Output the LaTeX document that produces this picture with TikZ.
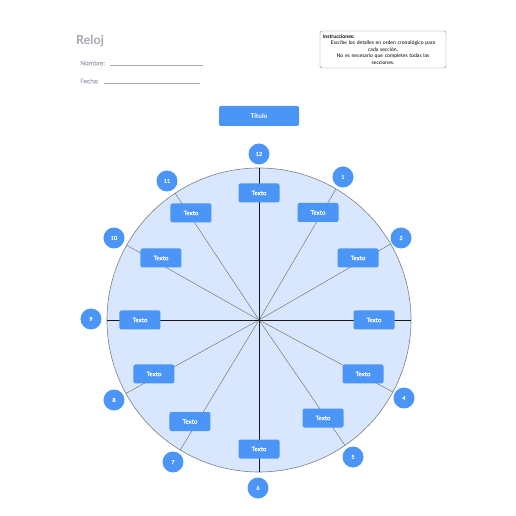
\documentclass[tikz,border=0pt]{standalone}
\usepackage{fontspec}
\setmainfont{Lato}
\newfontfamily\mediumFont[FakeBold=0.6]{Lato}
\usetikzlibrary{calc, positioning}
\definecolor{clockBlue}{HTML}{4A95F6}
\definecolor{clockFace}{HTML}{D8E7FD}
\definecolor{rimGray}{HTML}{7A7F87}
\definecolor{headGray}{HTML}{A3A8B2}
\tikzset{
  textBox/.style={fill=clockBlue, rounded corners=2pt, minimum width=41pt, minimum height=19pt,
    inner sep=0pt, text=white, font=\mediumFont\fontsize{6.2}{7}\selectfont},
  hourDot/.style={circle, fill=clockBlue, minimum size=21pt, inner sep=0pt, text=white,
    font=\mediumFont\fontsize{5.5}{6}\selectfont},
  spoke/.style={draw=black!60, line width=0.4pt},
  axisLine/.style={draw=black!90, line width=0.6pt},
  headText/.style={anchor=west, inner sep=0pt, text=headGray}
}

\begin{document}
\begin{tikzpicture}[x=1pt, y=1pt]
  \useasboundingbox (-259,-196) rectangle (257,320);
  \coordinate (c) at (0,0);
  \draw[fill=clockFace, draw=rimGray, line width=0.6pt] (c) circle (152);
  \foreach \h/\p in {1/{84,143},2/{142,82},4/{145,-78},5/{94,-137},6/{-1,-168},7/{-86,-142},
                     8/{-145,-80},9/{-168,1},10/{-145,82},11/{-92,139},12/{0,166}}
    \node[hourDot] (n\h) at (\p) {\h};
  \foreach \h in {1,2,4,5,7,8,10,11} \draw[spoke] (c) -- ($(c)!152pt!(n\h)$);
  \draw[axisLine] (0,152) -- (0,-152);
  \draw[axisLine] (-152,0) -- (152,0);
  \foreach \h/\p in {1/{59,107.5},2/{99,62},3/{115,0},4/{104,-54},5/{64,-98},6/{0,-129},
                     7/{-69,-101.5},8/{-105,-54},9/{-119,0},10/{-98,62},11/{-68,107},12/{0,127}}
    \node[textBox] (t\h) at (\p) {Texto};
  \node[textBox, minimum width=80pt, minimum height=20pt, font=\bfseries\fontsize{6.5}{7}\selectfont] (title) at (0,204) {Título};

  \node[headText, font=\bfseries\fontsize{12.5}{14}\selectfont] (reloj) at (-183,279) {Reloj};
  \node[headText, font=\mediumFont\fontsize{6.5}{8}\selectfont] (nombre) at (-179,257) {Nombre:};
  \node[headText, font=\mediumFont\fontsize{6.5}{8}\selectfont] (fecha) at (-179,239) {Fecha:};
  \coordinate (nombreEnd) at (-56,0);
  \coordinate (fechaEnd) at (-59,0);
  \draw[headGray, line width=0.5pt] ($(nombre.base east)+(5,0)$) -- (nombreEnd |- nombre.base);
  \draw[headGray, line width=0.5pt] ($(fecha.base east)+(5,0)$) -- (fechaEnd |- fecha.base);

  \node[draw=rimGray, rounded corners=2pt, minimum width=126pt, minimum height=37pt, inner sep=2pt,
        text width=120pt, align=center, font=\fontsize{5.1}{6.6}\selectfont] (instr) at (124,270.5) {%
    \makebox[120pt][l]{\bfseries Instrucciones:}\\
    Escribe los detalles en orden cronológico para\\ cada sección.\\
    No es necesario que completes todas las\\ secciones.};
\end{tikzpicture}
\end{document}
